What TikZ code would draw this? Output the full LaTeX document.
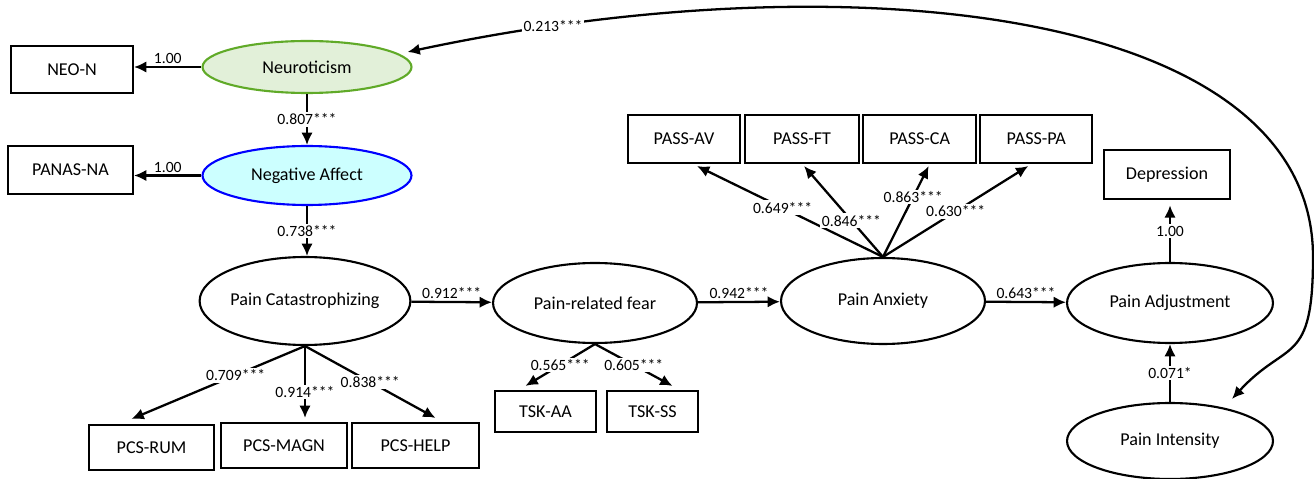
\documentclass[tikz,border=0pt]{standalone}
\usepackage{fontspec}
\setmainfont{Carlito}
\usepackage{tikz}
\usetikzlibrary{shapes,arrows.meta,positioning,calc}
\usepackage{xcolor}
\definecolor{lightgreen}{RGB}{226,240,217}
\definecolor{leafgreen}{RGB}{96,170,40}
\definecolor{lightcyan}{RGB}{204,255,255}

\begin{document}
\begin{tikzpicture}[
    x=0.02cm, y=-0.02cm,
    every node/.style={font=\fontsize{10.3}{12}\selectfont},
    latent/.style={ellipse, draw, line width=1.2pt, inner sep=0pt},
    indicator/.style={rectangle, draw, line width=1.2pt, inner sep=0pt},
    coef/.style={font=\fontsize{8.9}{10}\selectfont, inner sep=1pt},
    coefbg/.style={coef, fill=white},
    arrow/.style={-{Latex[length=7pt,width=6.5pt]}, line width=1.3pt},
    dblarrow/.style={{Latex[length=7pt,width=6.5pt]}-{Latex[length=7pt,width=6.5pt]}, line width=1.3pt}
]
    \useasboundingbox (0,0) rectangle (1314,479);

    % Latent variables
    \node[latent, fill=lightgreen, draw=leafgreen, minimum width=4.18cm, minimum height=1.04cm] (neuro) at (307,67) {Neuroticism};
    \node[latent, fill=lightcyan, draw=blue, minimum width=4.18cm, minimum height=1.18cm] (negaff) at (307,175.5) {Negative Affect};
    \node[latent, minimum width=4.12cm, minimum height=1.76cm] (pc) at (305,301) {Pain Catastrophizing};
    \node[latent, minimum width=4.08cm, minimum height=1.6cm] (prf) at (595,303) {Pain-related fear};
    \node[latent, minimum width=4.08cm, minimum height=1.72cm] (panx) at (883,301) {Pain Anxiety};
    \node[latent, minimum width=4.12cm, minimum height=1.6cm] (padj) at (1170,303) {Pain Adjustment};
    \node[latent, minimum width=4.12cm, minimum height=1.52cm] (pint) at (1170,441) {Pain Intensity};

    % Indicators
    \node[indicator, minimum width=2.44cm, minimum height=0.94cm] (neon) at (72,69.5) {NEO-N};
    \node[indicator, minimum width=2.5cm, minimum height=0.96cm] (panas) at (70.5,170) {PANAS-NA};
    \node[indicator, minimum width=2.5cm, minimum height=0.9cm] (rum) at (151.5,447.5) {PCS-RUM};
    \node[indicator, minimum width=2.52cm, minimum height=0.9cm] (magn) at (284,445.5) {PCS-MAGN};
    \node[indicator, minimum width=2.54cm, minimum height=0.9cm] (help) at (415.5,445.5) {PCS-HELP};
    \node[indicator, minimum width=2.02cm, minimum height=0.82cm] (tskaa) at (545.5,411.5) {TSK-AA};
    \node[indicator, minimum width=1.82cm, minimum height=0.82cm] (tskss) at (652.5,411.5) {TSK-SS};
    \node[indicator, minimum width=2.24cm, minimum height=0.96cm] (passav) at (684,139) {PASS-AV};
    \node[indicator, minimum width=2.28cm, minimum height=0.96cm, right=0.06cm of passav] (passft) {PASS-FT};
    \node[indicator, minimum width=2.26cm, minimum height=0.96cm, right=0.04cm of passft] (passca) {PASS-CA};
    \node[indicator, minimum width=2.24cm, minimum height=0.96cm, right=0.04cm of passca] (passpa) {PASS-PA};
    \node[indicator, minimum width=2.52cm, minimum height=0.98cm] (dep) at (1167,174.5) {Depression};

    % Structural paths
    \draw[arrow] (neuro) -- node[coefbg] {0.807***} (negaff);
    \draw[arrow] (negaff.south) -- node[coefbg] {0.738***} (negaff.south |- pc.north);
    \draw[arrow] (pc) -- node[coef, above] {0.912***} (prf);
    \draw[arrow] (prf) -- node[coef, above] {0.942***} (panx);
    \draw[arrow] (panx) -- node[coef, above] {0.643***} (padj);
    \draw[arrow] (pint) -- node[coefbg] {0.071*} (padj);

    % Loadings
    \draw[arrow] (neuro.west) -- node[coef, above] {1.00} (neuro.west -| neon.east);
    \draw[arrow] (negaff.west) -- node[coef, above] {1.00} (negaff.west -| panas.east);
    \draw[arrow] (pc.south) -- node[coefbg, pos=0.4] {0.709***} ($(rum.north)+(-20,-5)$);
    \draw[arrow] (pc.south) -- node[coefbg, pos=0.64] {0.914***} ($(pc.south |- magn.north)+(0,-4)$);
    \draw[arrow] (pc.south) -- node[coefbg, pos=0.5] {0.838***} ($(help.north)+(20,-4)$);
    \draw[arrow] (prf.south) -- node[coefbg, pos=0.5] {0.565***} ($(tskaa.north)+(-20,-4)$);
    \draw[arrow] (prf.south) -- node[coefbg, pos=0.5] {0.605***} ($(tskss.north)+(20,-4)$);
    \draw[arrow] (panx.north) -- node[coefbg, pos=0.54] {0.649***} ($(passav.south)+(13,2)$);
    \draw[arrow] (panx.north) -- node[coefbg, pos=0.4] {0.846***} ($(passft.south)+(2,2)$);
    \draw[arrow] (panx.north) -- node[coefbg, pos=0.66] {0.863***} ($(passca.south)+(9,2)$);
    \draw[arrow] (panx.north) -- node[coefbg, pos=0.5] {0.630***} ($(passpa.south)+(-8,2)$);
    \draw[arrow, shorten >=3pt] (padj.north) -- node[coefbg] {1.00} (padj.north |- dep.south);

    % Correlation
    \coordinate (rbend) at (1313,257);
    \draw[dblarrow] ($(neuro.east)+(-5,-15)$) .. controls +(440,-94) and +(0,-250) .. node[coefbg, pos=0.11] {0.213***} (rbend)
        .. controls +(0,110) and +(55,-60) .. ($(pint.north)+(62,-3)$);
\end{tikzpicture}
\end{document}
